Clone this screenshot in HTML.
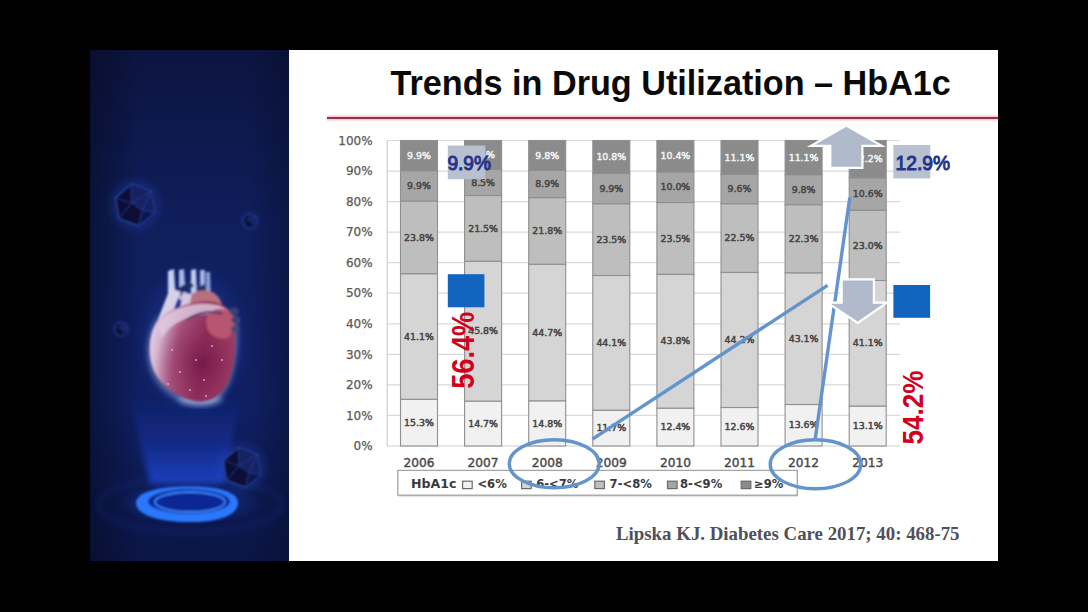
<!DOCTYPE html>
<html><head><meta charset="utf-8"><style>
html,body{margin:0;padding:0;background:#000;}
body{width:1088px;height:612px;position:relative;overflow:hidden;}
#panel{position:absolute;left:90px;top:50px;width:199px;height:511px;background:#0d1c55;overflow:hidden;}
#slide{position:absolute;left:289px;top:50px;width:709px;height:511px;background:#fff;}
#title{position:absolute;left:390.5px;top:64px;font:bold 34.2px "Liberation Sans",Arial,sans-serif;color:#0a0a0a;white-space:nowrap;letter-spacing:0px;}
#redline{position:absolute;left:326.5px;top:117px;width:671.5px;height:2px;background:#94344b;box-shadow:0 -1.5px 1.5px rgba(235,140,165,0.55),0 1.5px 1.5px rgba(235,140,165,0.55);}
#cite{position:absolute;left:616px;top:522.5px;font:bold 18.85px "Liberation Serif",serif;color:#4f5058;white-space:nowrap;}
svg{position:absolute;left:0;top:0;}
.yl{font:12px "DejaVu Sans",sans-serif;fill:#595959;stroke:#595959;stroke-width:0.25px;text-anchor:end;}
.xl{font:12.2px "DejaVu Sans",sans-serif;fill:#484848;stroke:#484848;stroke-width:0.4px;text-anchor:middle;}
.dl{font:9.4px "DejaVu Sans",sans-serif;text-anchor:middle;stroke-width:0.5px;}
.lg{font:bold 11.6px "DejaVu Sans",sans-serif;fill:#3a3a3a;}
.ann{font:19.5px "Liberation Sans",Arial,sans-serif;fill:#22338a;stroke:#22338a;stroke-width:0.95px;}
.red{font:bold 27.2px "Liberation Sans",Arial,sans-serif;fill:#d2001c;}
</style></head><body>
<div id="panel"><svg id="psvg" width="199" height="511" viewBox="90 50 199 511" style="position:absolute;left:0;top:0">
<defs>
<linearGradient id="bgv" x1="0" y1="0" x2="0" y2="1">
 <stop offset="0" stop-color="#0c1440"/>
 <stop offset="0.35" stop-color="#0f1e5c"/>
 <stop offset="0.7" stop-color="#0f1f62"/>
 <stop offset="1" stop-color="#0b1545"/>
</linearGradient>
<linearGradient id="bgh" x1="0" y1="0" x2="1" y2="0">
 <stop offset="0" stop-color="#050a20" stop-opacity="0.55"/>
 <stop offset="0.25" stop-color="#050a20" stop-opacity="0"/>
 <stop offset="0.8" stop-color="#050a20" stop-opacity="0"/>
 <stop offset="1" stop-color="#050a20" stop-opacity="0.35"/>
</linearGradient>
<radialGradient id="pglow"><stop offset="0" stop-color="#3a60ff" stop-opacity="0.45"/><stop offset="1" stop-color="#3a60ff" stop-opacity="0"/></radialGradient>
<radialGradient id="hglow" cx="0.5" cy="0.5" r="0.5"><stop offset="0" stop-color="#6f8cff" stop-opacity="0.55"/><stop offset="0.6" stop-color="#3050d0" stop-opacity="0.25"/><stop offset="1" stop-color="#2040c0" stop-opacity="0"/></radialGradient>
<linearGradient id="heartlin" x1="0" y1="0.3" x2="1" y2="0.5"><stop offset="0" stop-color="#e6d4ec"/><stop offset="0.14" stop-color="#d4b0cc"/><stop offset="0.34" stop-color="#ae5c86"/><stop offset="0.65" stop-color="#8e2e5a"/><stop offset="1" stop-color="#a04468"/></linearGradient>
<radialGradient id="heartg" cx="0.62" cy="0.62" r="0.55"><stop offset="0" stop-color="#74184a" stop-opacity="0.9"/><stop offset="0.6" stop-color="#8a2a58" stop-opacity="0.45"/><stop offset="1" stop-color="#8a2a58" stop-opacity="0"/></radialGradient>
<linearGradient id="beam" x1="0" y1="1" x2="0" y2="0"><stop offset="0" stop-color="#2250ea" stop-opacity="0.75"/><stop offset="0.45" stop-color="#1c40cc" stop-opacity="0.38"/><stop offset="1" stop-color="#1a36b8" stop-opacity="0"/></linearGradient>
<radialGradient id="ringglow" cx="0.5" cy="0.5" r="0.5"><stop offset="0" stop-color="#1f4de0" stop-opacity="0.6"/><stop offset="1" stop-color="#1f4de0" stop-opacity="0"/></radialGradient>
<filter id="b1" x="-20%" y="-20%" width="140%" height="140%"><feGaussianBlur stdDeviation="1.2"/></filter>
<filter id="b2" x="-30%" y="-30%" width="160%" height="160%"><feGaussianBlur stdDeviation="3"/></filter>
<filter id="b05"><feGaussianBlur stdDeviation="0.6"/></filter>
<filter id="b07"><feGaussianBlur stdDeviation="0.8"/></filter>
<filter id="b08" x="-20%" y="-20%" width="140%" height="140%"><feGaussianBlur stdDeviation="1.2"/></filter>
<filter id="b3" x="-30%" y="-30%" width="160%" height="160%"><feGaussianBlur stdDeviation="6"/></filter>
</defs>
<rect x="90" y="50" width="199" height="511" fill="url(#bgv)"/>
<rect x="90" y="50" width="199" height="511" fill="url(#bgh)"/>
<path d="M150,484 L224,484 L242,392 L128,392 Z" fill="url(#beam)" filter="url(#b2)"/>
<ellipse cx="190" cy="505" rx="92" ry="27" fill="none" stroke="#1a3088" stroke-width="4" opacity="0.35" filter="url(#b2)"/>
<ellipse cx="190" cy="503" rx="72" ry="22" fill="url(#ringglow)"/>
<g filter="url(#b07)">
<path d="M136,503 C136,492 158,486.5 190,486.5 C222,486.5 238,493 238,503 C238,513 224,522 190,522 C156,522 136,514 136,503 Z" fill="#2c78fc"/>
<ellipse cx="189" cy="501.5" rx="41" ry="12.5" fill="#0f2a9a"/>
<ellipse cx="190" cy="502" rx="35" ry="10" fill="none" stroke="#3a86ff" stroke-width="1.8"/>
<ellipse cx="191" cy="502" rx="30" ry="8.3" fill="#0d2696"/>
</g>
<path d="M150,476 L205,476" stroke="#3c7cff" stroke-width="1.5" opacity="0.6" filter="url(#b07)"/>
<ellipse cx="193" cy="338" rx="60" ry="80" fill="url(#hglow)"/>
<ellipse cx="200" cy="399" rx="22" ry="6" fill="#c8dcff" opacity="0.55" filter="url(#b2)"/>
<path d="M162,318 C150,330 147,355 155,373 C165,393 186,403 202,402 C216,401 226,389 230,371 C235,351 236,331 232,315" fill="none" stroke="#cfe0ff" stroke-width="4" opacity="0.6" filter="url(#b2)"/>
<g filter="url(#b08)">
<path d="M168,304 L168,271 L174,269 L176,304 Z" fill="#c6d0f0"/>
<path d="M179,300 L179,270 L184,269 L186,300 Z" fill="#aab8e6"/>
<path d="M191,300 L191,270 L196,269 L197,300 Z" fill="#c0cbef"/>
<path d="M200,302 L200,270 L205,270 L205,302 Z" fill="#a6b4e4"/>
<path d="M206,304 L206,272 L210,272 L211,304 Z" fill="#8e9fd8"/>
<path d="M175,290 L190,281 L194,286 L180,296 Z" fill="#1e2a66"/>
<path d="M196,288 L204,284 L206,290 L198,294 Z" fill="#26306c"/>
<path d="M186,302 C190,291 204,287 214,293 C222,299 224,307 220,313 L190,313 Z" fill="#b8707e"/>
<path d="M170,288 C166,300 160,312 156,326 L167,330 C171,316 177,302 181,292 Z" fill="#d9d0e8"/>
<path d="M183,292 C180,304 178,316 178,326 L188,324 C188,312 190,302 192,294 Z" fill="#d2c6e0"/>
<path d="M160,318 C150,328 147,350 152,366 C158,384 176,398 198,401.5 C214,402 226,392 231,374 C236,356 237,334 233,316 C226,302 210,299 196,302 C182,305 168,310 160,318 Z" fill="url(#heartlin)"/>
<path d="M160,318 C150,328 147,350 152,366 C158,384 176,398 198,401.5 C214,402 226,392 231,374 C236,356 237,334 233,316 C226,302 210,299 196,302 C182,305 168,310 160,318 Z" fill="url(#heartg)"/>
<path d="M158,326 C164,314 176,308 192,305 C208,302 222,304 230,312 L226,318 C214,313 200,313 188,318 C176,322 168,328 162,338 Z" fill="#e0cde2" opacity="0.8"/>
<path d="M206,320 C208,310 220,306 229,311 C236,318 235,330 229,337 C221,342 210,336 207,328 Z" fill="#b85470"/>
<ellipse cx="234" cy="311" rx="5" ry="3.5" fill="#3a4272"/>
<ellipse cx="236" cy="320" rx="4.5" ry="3.2" fill="#3a4272"/>
<ellipse cx="235" cy="329" rx="4" ry="3" fill="#424a7a"/>
<path d="M186,320 C198,312 212,310 222,314" fill="none" stroke="#3a3a6e" stroke-width="2"/>
</g>
<circle cx="172" cy="350" r="0.9" fill="#f0d0e8" opacity="0.8"/>
<circle cx="180" cy="372" r="0.9" fill="#f0d0e8" opacity="0.8"/>
<circle cx="196" cy="360" r="0.9" fill="#f0d0e8" opacity="0.8"/>
<circle cx="204" cy="380" r="0.9" fill="#f0d0e8" opacity="0.8"/>
<circle cx="212" cy="346" r="0.9" fill="#f0d0e8" opacity="0.8"/>
<circle cx="190" cy="390" r="0.9" fill="#f0d0e8" opacity="0.8"/>
<circle cx="222" cy="360" r="0.9" fill="#f0d0e8" opacity="0.8"/>
<circle cx="168" cy="384" r="0.9" fill="#f0d0e8" opacity="0.8"/>
<circle cx="206" cy="396" r="0.9" fill="#f0d0e8" opacity="0.8"/>
<circle cx="135.0" cy="205.0" r="30.4" fill="url(#pglow)"/>
<g filter="url(#b07)">
<polygon points="131.4,183.9 151.1,191.2 154.7,212.3 138.6,226.1 118.9,218.8 115.3,197.7" fill="#0a1134" stroke="#3452b8" stroke-width="1.17" stroke-opacity="0.7"/>
<polygon points="131.4,183.9 151.1,191.2 154.7,212.3 142.3,210.2 131.8,202.9" fill="#17246a" opacity="0.85"/>
<polygon points="154.7,212.3 138.6,226.1 142.3,210.2" fill="#101a52" opacity="0.9"/>
<path d="M131.4,183.9L131.8,202.9M151.1,191.2L142.3,210.2M154.7,212.3L142.3,210.2M138.6,226.1L142.3,210.2M118.9,218.8L131.8,202.9M115.3,197.7L131.8,202.9M131.8,202.9L142.3,210.2M151.1,191.2L131.8,202.9" stroke="#3654c0" stroke-width="0.81" stroke-opacity="0.65" fill="none"/>
</g>
<circle cx="250.0" cy="221.0" r="10.9" fill="url(#pglow)"/>
<g filter="url(#b07)">
<polygon points="248.7,213.5 255.7,216.1 257.0,223.6 251.3,228.5 244.3,225.9 243.0,218.4" fill="#0a1134" stroke="#3452b8" stroke-width="0.60" stroke-opacity="0.7"/>
<polygon points="248.7,213.5 255.7,216.1 257.0,223.6 252.6,222.9 248.9,220.2" fill="#17246a" opacity="0.85"/>
<polygon points="257.0,223.6 251.3,228.5 252.6,222.9" fill="#101a52" opacity="0.9"/>
<path d="M248.7,213.5L248.9,220.2M255.7,216.1L252.6,222.9M257.0,223.6L252.6,222.9M251.3,228.5L252.6,222.9M244.3,225.9L248.9,220.2M243.0,218.4L248.9,220.2M248.9,220.2L252.6,222.9M255.7,216.1L248.9,220.2" stroke="#3654c0" stroke-width="0.50" stroke-opacity="0.65" fill="none"/>
</g>
<circle cx="121.0" cy="329.0" r="10.2" fill="url(#pglow)"/>
<g filter="url(#b07)">
<polygon points="119.8,322.0 126.4,324.4 127.6,331.4 122.2,336.0 115.6,333.6 114.4,326.6" fill="#0a1134" stroke="#3452b8" stroke-width="0.60" stroke-opacity="0.7"/>
<polygon points="119.8,322.0 126.4,324.4 127.6,331.4 123.5,330.8 120.0,328.3" fill="#17246a" opacity="0.85"/>
<polygon points="127.6,331.4 122.2,336.0 123.5,330.8" fill="#101a52" opacity="0.9"/>
<path d="M119.8,322.0L120.0,328.3M126.4,324.4L123.5,330.8M127.6,331.4L123.5,330.8M122.2,336.0L123.5,330.8M115.6,333.6L120.0,328.3M114.4,326.6L120.0,328.3M120.0,328.3L123.5,330.8M126.4,324.4L120.0,328.3" stroke="#3654c0" stroke-width="0.50" stroke-opacity="0.65" fill="none"/>
</g>
<circle cx="242.0" cy="467.5" r="29.0" fill="url(#pglow)"/>
<g filter="url(#b07)">
<polygon points="238.5,447.4 257.3,454.4 260.8,474.5 245.5,487.6 226.7,480.6 223.2,460.5" fill="#0a1134" stroke="#3452b8" stroke-width="1.11" stroke-opacity="0.7"/>
<polygon points="238.5,447.4 257.3,454.4 260.8,474.5 249.0,472.5 239.0,465.5" fill="#17246a" opacity="0.85"/>
<polygon points="260.8,474.5 245.5,487.6 249.0,472.5" fill="#101a52" opacity="0.9"/>
<path d="M238.5,447.4L239.0,465.5M257.3,454.4L249.0,472.5M260.8,474.5L249.0,472.5M245.5,487.6L249.0,472.5M226.7,480.6L239.0,465.5M223.2,460.5L239.0,465.5M239.0,465.5L249.0,472.5M257.3,454.4L239.0,465.5" stroke="#3654c0" stroke-width="0.77" stroke-opacity="0.65" fill="none"/>
</g>
</svg></div>
<div id="slide"></div>
<div id="title">Trends in Drug Utilization – HbA1c</div>
<div id="redline"></div>
<div id="cite">Lipska KJ. Diabetes Care 2017; 40: 468-75</div>
<svg width="1088" height="612" viewBox="0 0 1088 612">
<line x1="387" y1="415.4" x2="900" y2="415.4" stroke="#d9d9d9" stroke-width="1.2"/>
<line x1="387" y1="384.9" x2="900" y2="384.9" stroke="#d9d9d9" stroke-width="1.2"/>
<line x1="387" y1="354.4" x2="900" y2="354.4" stroke="#d9d9d9" stroke-width="1.2"/>
<line x1="387" y1="323.8" x2="900" y2="323.8" stroke="#d9d9d9" stroke-width="1.2"/>
<line x1="387" y1="293.2" x2="900" y2="293.2" stroke="#d9d9d9" stroke-width="1.2"/>
<line x1="387" y1="262.7" x2="900" y2="262.7" stroke="#d9d9d9" stroke-width="1.2"/>
<line x1="387" y1="232.1" x2="900" y2="232.1" stroke="#d9d9d9" stroke-width="1.2"/>
<line x1="387" y1="201.6" x2="900" y2="201.6" stroke="#d9d9d9" stroke-width="1.2"/>
<line x1="387" y1="171.1" x2="900" y2="171.1" stroke="#d9d9d9" stroke-width="1.2"/>
<line x1="387" y1="140.5" x2="900" y2="140.5" stroke="#d9d9d9" stroke-width="1.2"/>
<line x1="387.2" y1="140.5" x2="387.2" y2="446.0" stroke="#cfcfcf" stroke-width="1.2"/>
<line x1="387" y1="446.0" x2="900" y2="446.0" stroke="#cfcfcf" stroke-width="1.2"/>
<text x="372.6" y="450.1" class="yl">0%</text>
<text x="372.6" y="419.6" class="yl">10%</text>
<text x="372.6" y="389.0" class="yl">20%</text>
<text x="372.6" y="358.5" class="yl">30%</text>
<text x="372.6" y="327.9" class="yl">40%</text>
<text x="372.6" y="297.4" class="yl">50%</text>
<text x="372.6" y="266.8" class="yl">60%</text>
<text x="372.6" y="236.2" class="yl">70%</text>
<text x="372.6" y="205.7" class="yl">80%</text>
<text x="372.6" y="175.2" class="yl">90%</text>
<text x="372.6" y="144.6" class="yl">100%</text>
<rect x="400.5" y="399.3" width="37.0" height="46.7" fill="#f1f1f1" stroke="#8f8f8f" stroke-width="1.1"/>
<rect x="400.5" y="273.7" width="37.0" height="125.6" fill="#d5d5d5" stroke="#8f8f8f" stroke-width="1.1"/>
<rect x="400.5" y="201.0" width="37.0" height="72.7" fill="#bebebe" stroke="#8f8f8f" stroke-width="1.1"/>
<rect x="400.5" y="170.7" width="37.0" height="30.2" fill="#a6a6a6" stroke="#8f8f8f" stroke-width="1.1"/>
<rect x="400.5" y="140.5" width="37.0" height="30.2" fill="#8b8b8b" stroke="#8f8f8f" stroke-width="1.1"/>
<text x="419.0" y="425.8" class="dl" fill="#454545" stroke="#454545">15.3%</text>
<text x="419.0" y="339.7" class="dl" fill="#454545" stroke="#454545">41.1%</text>
<text x="419.0" y="240.5" class="dl" fill="#454545" stroke="#454545">23.8%</text>
<text x="419.0" y="189.1" class="dl" fill="#454545" stroke="#454545">9.9%</text>
<text x="419.0" y="158.8" class="dl" fill="#f2f2f2" stroke="#f2f2f2">9.9%</text>
<text x="419.0" y="466.5" class="xl">2006</text>
<rect x="464.6" y="401.1" width="37.0" height="44.9" fill="#f1f1f1" stroke="#8f8f8f" stroke-width="1.1"/>
<rect x="464.6" y="261.2" width="37.0" height="139.9" fill="#d5d5d5" stroke="#8f8f8f" stroke-width="1.1"/>
<rect x="464.6" y="195.5" width="37.0" height="65.7" fill="#bebebe" stroke="#8f8f8f" stroke-width="1.1"/>
<rect x="464.6" y="169.5" width="37.0" height="26.0" fill="#a6a6a6" stroke="#8f8f8f" stroke-width="1.1"/>
<rect x="464.6" y="140.5" width="37.0" height="29.0" fill="#8b8b8b" stroke="#8f8f8f" stroke-width="1.1"/>
<text x="483.1" y="426.7" class="dl" fill="#454545" stroke="#454545">14.7%</text>
<text x="483.1" y="334.3" class="dl" fill="#454545" stroke="#454545">45.8%</text>
<text x="483.1" y="231.5" class="dl" fill="#454545" stroke="#454545">21.5%</text>
<text x="483.1" y="185.7" class="dl" fill="#454545" stroke="#454545">8.5%</text>
<text x="483.1" y="158.2" class="dl" fill="#f2f2f2" stroke="#f2f2f2">9.5%</text>
<text x="483.1" y="466.5" class="xl">2007</text>
<rect x="528.7" y="400.8" width="37.0" height="45.2" fill="#f1f1f1" stroke="#8f8f8f" stroke-width="1.1"/>
<rect x="528.7" y="264.2" width="37.0" height="136.6" fill="#d5d5d5" stroke="#8f8f8f" stroke-width="1.1"/>
<rect x="528.7" y="197.6" width="37.0" height="66.6" fill="#bebebe" stroke="#8f8f8f" stroke-width="1.1"/>
<rect x="528.7" y="170.4" width="37.0" height="27.2" fill="#a6a6a6" stroke="#8f8f8f" stroke-width="1.1"/>
<rect x="528.7" y="140.5" width="37.0" height="29.9" fill="#8b8b8b" stroke="#8f8f8f" stroke-width="1.1"/>
<text x="547.2" y="426.6" class="dl" fill="#454545" stroke="#454545">14.8%</text>
<text x="547.2" y="335.7" class="dl" fill="#454545" stroke="#454545">44.7%</text>
<text x="547.2" y="234.1" class="dl" fill="#454545" stroke="#454545">21.8%</text>
<text x="547.2" y="187.2" class="dl" fill="#454545" stroke="#454545">8.9%</text>
<text x="547.2" y="158.7" class="dl" fill="#f2f2f2" stroke="#f2f2f2">9.8%</text>
<text x="547.2" y="466.5" class="xl">2008</text>
<rect x="592.8" y="410.3" width="37.0" height="35.7" fill="#f1f1f1" stroke="#8f8f8f" stroke-width="1.1"/>
<rect x="592.8" y="275.5" width="37.0" height="134.7" fill="#d5d5d5" stroke="#8f8f8f" stroke-width="1.1"/>
<rect x="592.8" y="203.7" width="37.0" height="71.8" fill="#bebebe" stroke="#8f8f8f" stroke-width="1.1"/>
<rect x="592.8" y="173.5" width="37.0" height="30.2" fill="#a6a6a6" stroke="#8f8f8f" stroke-width="1.1"/>
<rect x="592.8" y="140.5" width="37.0" height="33.0" fill="#8b8b8b" stroke="#8f8f8f" stroke-width="1.1"/>
<text x="611.3" y="431.3" class="dl" fill="#454545" stroke="#454545">11.7%</text>
<text x="611.3" y="346.1" class="dl" fill="#454545" stroke="#454545">44.1%</text>
<text x="611.3" y="242.8" class="dl" fill="#454545" stroke="#454545">23.5%</text>
<text x="611.3" y="191.8" class="dl" fill="#454545" stroke="#454545">9.9%</text>
<text x="611.3" y="160.2" class="dl" fill="#f2f2f2" stroke="#f2f2f2">10.8%</text>
<text x="611.3" y="466.5" class="xl">2009</text>
<rect x="656.9" y="408.1" width="37.0" height="37.9" fill="#f1f1f1" stroke="#8f8f8f" stroke-width="1.1"/>
<rect x="656.9" y="274.3" width="37.0" height="133.8" fill="#d5d5d5" stroke="#8f8f8f" stroke-width="1.1"/>
<rect x="656.9" y="202.5" width="37.0" height="71.8" fill="#bebebe" stroke="#8f8f8f" stroke-width="1.1"/>
<rect x="656.9" y="172.0" width="37.0" height="30.6" fill="#a6a6a6" stroke="#8f8f8f" stroke-width="1.1"/>
<rect x="656.9" y="140.5" width="37.0" height="31.5" fill="#8b8b8b" stroke="#8f8f8f" stroke-width="1.1"/>
<text x="675.4" y="430.3" class="dl" fill="#454545" stroke="#454545">12.4%</text>
<text x="675.4" y="344.4" class="dl" fill="#454545" stroke="#454545">43.8%</text>
<text x="675.4" y="241.6" class="dl" fill="#454545" stroke="#454545">23.5%</text>
<text x="675.4" y="190.4" class="dl" fill="#454545" stroke="#454545">10.0%</text>
<text x="675.4" y="159.4" class="dl" fill="#f2f2f2" stroke="#f2f2f2">10.4%</text>
<text x="675.4" y="466.5" class="xl">2010</text>
<rect x="721.0" y="407.5" width="37.0" height="38.5" fill="#f1f1f1" stroke="#8f8f8f" stroke-width="1.1"/>
<rect x="721.0" y="272.5" width="37.0" height="135.0" fill="#d5d5d5" stroke="#8f8f8f" stroke-width="1.1"/>
<rect x="721.0" y="203.7" width="37.0" height="68.7" fill="#bebebe" stroke="#8f8f8f" stroke-width="1.1"/>
<rect x="721.0" y="174.4" width="37.0" height="29.3" fill="#a6a6a6" stroke="#8f8f8f" stroke-width="1.1"/>
<rect x="721.0" y="140.5" width="37.0" height="33.9" fill="#8b8b8b" stroke="#8f8f8f" stroke-width="1.1"/>
<text x="739.5" y="430.0" class="dl" fill="#454545" stroke="#454545">12.6%</text>
<text x="739.5" y="343.2" class="dl" fill="#454545" stroke="#454545">44.2%</text>
<text x="739.5" y="241.3" class="dl" fill="#454545" stroke="#454545">22.5%</text>
<text x="739.5" y="192.3" class="dl" fill="#454545" stroke="#454545">9.6%</text>
<text x="739.5" y="160.7" class="dl" fill="#f2f2f2" stroke="#f2f2f2">11.1%</text>
<text x="739.5" y="466.5" class="xl">2011</text>
<rect x="785.1" y="404.5" width="37.0" height="41.5" fill="#f1f1f1" stroke="#8f8f8f" stroke-width="1.1"/>
<rect x="785.1" y="272.8" width="37.0" height="131.7" fill="#d5d5d5" stroke="#8f8f8f" stroke-width="1.1"/>
<rect x="785.1" y="204.7" width="37.0" height="68.1" fill="#bebebe" stroke="#8f8f8f" stroke-width="1.1"/>
<rect x="785.1" y="174.7" width="37.0" height="29.9" fill="#a6a6a6" stroke="#8f8f8f" stroke-width="1.1"/>
<rect x="785.1" y="140.5" width="37.0" height="34.2" fill="#8b8b8b" stroke="#8f8f8f" stroke-width="1.1"/>
<text x="803.6" y="428.4" class="dl" fill="#454545" stroke="#454545">13.6%</text>
<text x="803.6" y="341.8" class="dl" fill="#454545" stroke="#454545">43.1%</text>
<text x="803.6" y="241.9" class="dl" fill="#454545" stroke="#454545">22.3%</text>
<text x="803.6" y="192.9" class="dl" fill="#454545" stroke="#454545">9.8%</text>
<text x="803.6" y="160.8" class="dl" fill="#f2f2f2" stroke="#f2f2f2">11.1%</text>
<text x="803.6" y="466.5" class="xl">2012</text>
<rect x="849.2" y="406.0" width="37.0" height="40.0" fill="#f1f1f1" stroke="#8f8f8f" stroke-width="1.1"/>
<rect x="849.2" y="280.4" width="37.0" height="125.6" fill="#d5d5d5" stroke="#8f8f8f" stroke-width="1.1"/>
<rect x="849.2" y="210.2" width="37.0" height="70.3" fill="#bebebe" stroke="#8f8f8f" stroke-width="1.1"/>
<rect x="849.2" y="177.8" width="37.0" height="32.4" fill="#a6a6a6" stroke="#8f8f8f" stroke-width="1.1"/>
<rect x="849.2" y="140.5" width="37.0" height="37.3" fill="#8b8b8b" stroke="#8f8f8f" stroke-width="1.1"/>
<text x="867.7" y="429.2" class="dl" fill="#454545" stroke="#454545">13.1%</text>
<text x="867.7" y="346.4" class="dl" fill="#454545" stroke="#454545">41.1%</text>
<text x="867.7" y="248.5" class="dl" fill="#454545" stroke="#454545">23.0%</text>
<text x="867.7" y="197.2" class="dl" fill="#454545" stroke="#454545">10.6%</text>
<text x="867.7" y="162.3" class="dl" fill="#f2f2f2" stroke="#f2f2f2">12.2%</text>
<text x="867.7" y="466.5" class="xl">2013</text>
<rect x="398.5" y="472" width="399.5" height="24.5" fill="#c8c8c8"/>
<rect x="397.8" y="470.4" width="399.5" height="24.8" fill="#fff" stroke="#a5a5a5" stroke-width="1.3"/>
<text x="411" y="487.5" class="lg" style="font-size:12.6px">HbA1c</text>
<rect x="462.6" y="481.2" width="9.6" height="7.4" fill="#f1f1f1" stroke="#6a6a6a" stroke-width="1.2"/>
<text x="477.4" y="487.6" class="lg">&lt;6%</text>
<rect x="521.6" y="481.2" width="9.6" height="7.4" fill="#d5d5d5" stroke="#6a6a6a" stroke-width="1.2"/>
<text x="536.2" y="487.6" class="lg">6-&lt;7%</text>
<rect x="594.8000000000001" y="481.2" width="9.6" height="7.4" fill="#bebebe" stroke="#6a6a6a" stroke-width="1.2"/>
<text x="609.6" y="487.6" class="lg">7-&lt;8%</text>
<rect x="667.5" y="481.2" width="9.6" height="7.4" fill="#a6a6a6" stroke="#6a6a6a" stroke-width="1.2"/>
<text x="680.0" y="487.6" class="lg">8-&lt;9%</text>
<rect x="741.2" y="481.2" width="9.6" height="7.4" fill="#8b8b8b" stroke="#6a6a6a" stroke-width="1.2"/>
<text x="754.0" y="487.6" class="lg">≥9%</text>
<rect x="447.8" y="145.5" width="37.5" height="33.7" fill="#b9c0cf"/>
<text x="447.4" y="169.8" class="ann" textLength="43.6" lengthAdjust="spacingAndGlyphs">9.9%</text>
<rect x="893.4" y="145" width="36.9" height="33.4" fill="#b9c0cf"/>
<text x="895.6" y="169.8" class="ann" textLength="54.5" lengthAdjust="spacingAndGlyphs">12.9%</text>
<rect x="447.8" y="274.2" width="36.6" height="33.1" fill="#1264bf"/>
<rect x="893.4" y="285" width="36.7" height="32.8" fill="#1264bf"/>
<text transform="translate(473.5,388.8) rotate(-90) scale(1,1.16)" class="red">56.4%</text>
<text transform="translate(923.4,444.6) rotate(-90) scale(1,1.1)" class="red" style="font-size:26.1px">54.2%</text>
<line x1="592.4" y1="439.1" x2="827.6" y2="285.3" stroke="#6494cc" stroke-width="3.4"/>
<line x1="815.3" y1="438.2" x2="849.8" y2="197.6" stroke="#6494cc" stroke-width="3.4"/>
<ellipse cx="554.2" cy="463.8" rx="45" ry="24" fill="none" stroke="#6494cc" stroke-width="3.4"/>
<ellipse cx="815.5" cy="464.3" rx="45.3" ry="24.5" fill="none" stroke="#6494cc" stroke-width="3.4"/>
<polygon points="846.3,125.5 881.8,145.9 862.4,145.9 862.4,167.9 830.3,167.9 830.3,145.9 810.9,145.9" fill="#b0bacb" stroke="#fff" stroke-width="2.2" stroke-linejoin="miter"/>
<polygon points="841.7,279.3 873.9,279.3 873.9,302.6 887,302.6 857.8,323 827.3,302.6 841.7,302.6" fill="#b0bacb" stroke="#fff" stroke-width="2.2"/>
</svg>
</body></html>
